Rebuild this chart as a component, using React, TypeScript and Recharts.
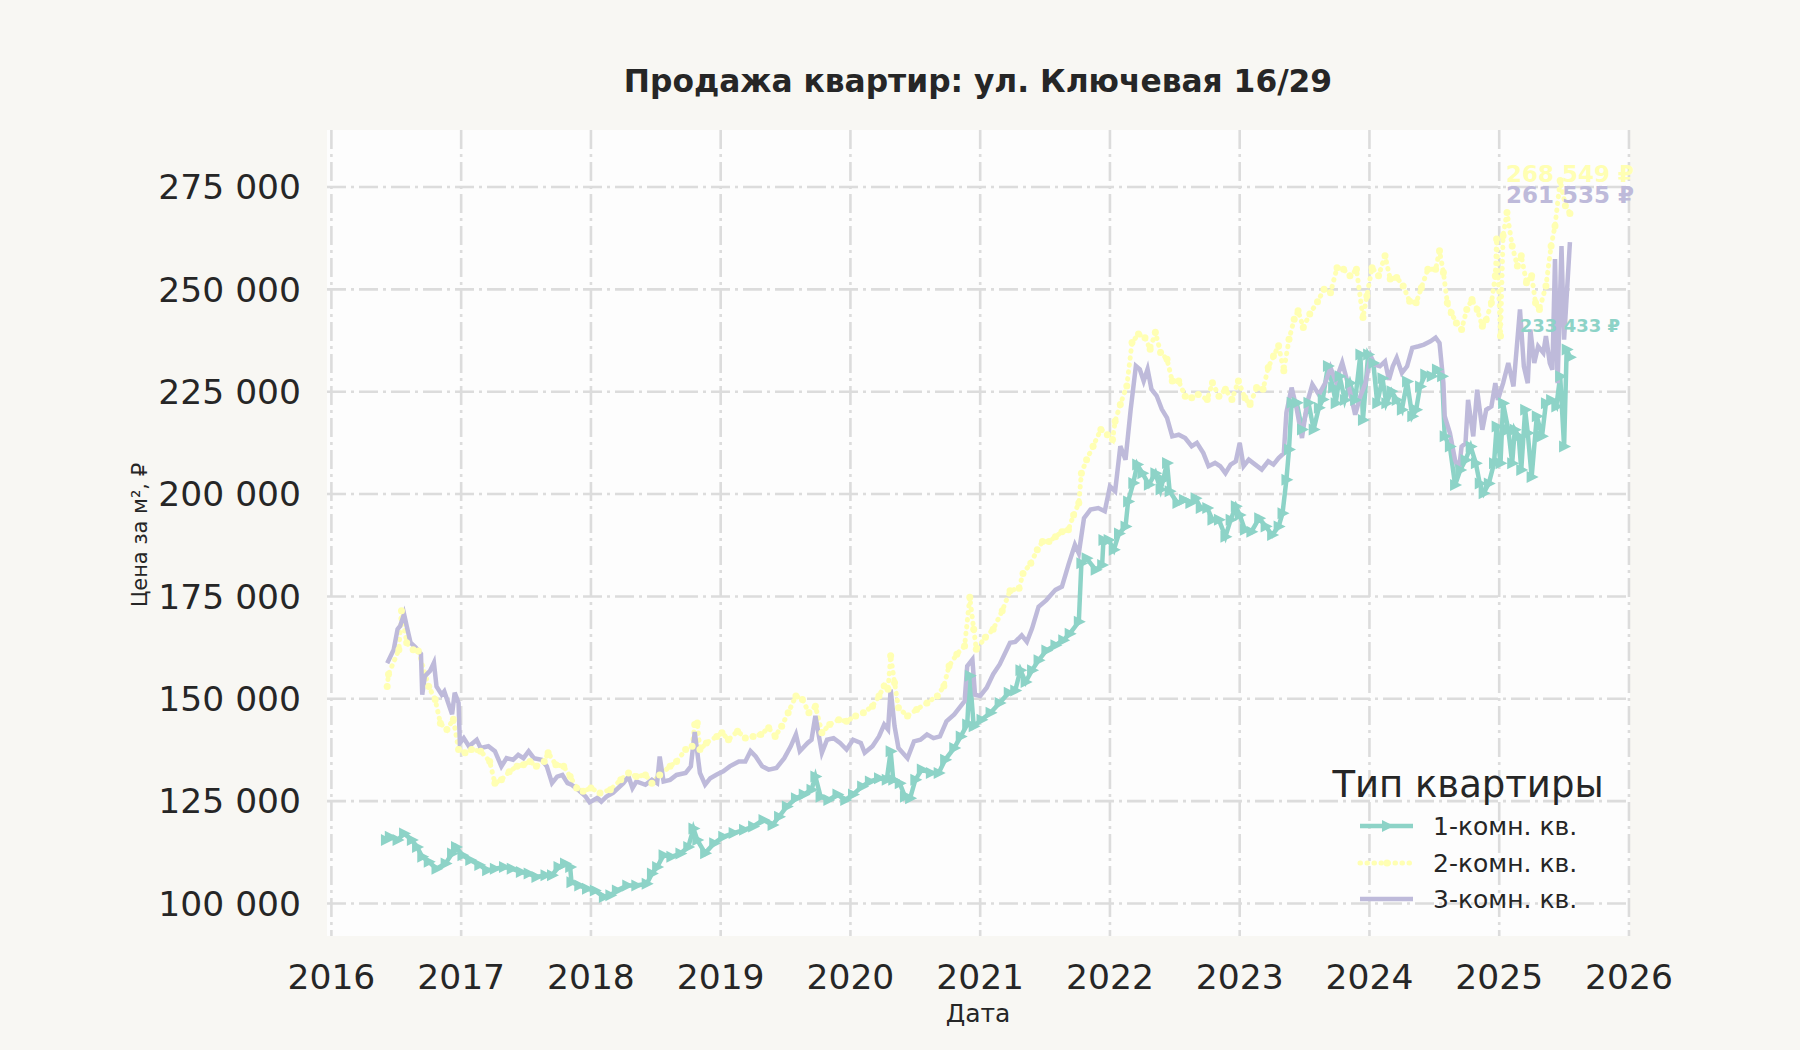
import { LineChart, Line, XAxis, YAxis, CartesianGrid, ReferenceDot } from 'recharts';

const C = {
  teal: '#8dd3c7',
  yellow: '#ffffb3',
  lavender: '#bebada',
  ink: '#262626',
  grid: '#dcdcdc',
  paper: '#f8f7f3',
  plot: '#fdfdfd',
};

const TITLE = 'Продажа квартир: ул. Ключевая 16/29';
const X_LABEL = 'Дата';
const Y_LABEL = 'Цена за м², ₽';
const LEGEND_TITLE = 'Тип квартиры';
const SERIES_NAMES = ['1-комн. кв.', '2-комн. кв.', '3-комн. кв.'];

const X_TICKS = [2016, 2017, 2018, 2019, 2020, 2021, 2022, 2023, 2024, 2025, 2026];
const Y_TICKS = [100000, 125000, 150000, 175000, 200000, 225000, 250000, 275000];

// [decimal year, price per m²]
const ONE_ROOM: [number, number][] = [
  [2016.42, 115500], [2016.45, 116300], [2016.51, 115500], [2016.56, 117100], [2016.62, 115500],
  [2016.66, 113800], [2016.70, 111400], [2016.75, 110200], [2016.81, 108500], [2016.88, 109800],
  [2016.93, 112200], [2016.96, 113800], [2017.01, 111800], [2017.07, 110600], [2017.14, 109400],
  [2017.20, 108100], [2017.26, 108500], [2017.33, 108900], [2017.39, 108500], [2017.46, 107700],
  [2017.52, 107300], [2017.58, 106500], [2017.65, 106900], [2017.70, 106900], [2017.75, 108900],
  [2017.80, 109800], [2017.84, 108900], [2017.85, 105200], [2017.91, 104400], [2017.97, 103600],
  [2018.03, 103200], [2018.10, 101600], [2018.15, 102000], [2018.20, 103200], [2018.28, 104400],
  [2018.35, 104400], [2018.43, 104800], [2018.47, 107300], [2018.51, 108900], [2018.56, 111800],
  [2018.62, 111400], [2018.69, 112200], [2018.75, 113800], [2018.79, 118300], [2018.82, 115500],
  [2018.88, 112300], [2018.95, 114700], [2019.02, 116300], [2019.10, 117200], [2019.18, 118000],
  [2019.25, 118800], [2019.33, 120400], [2019.40, 119200], [2019.45, 121200], [2019.51, 123700],
  [2019.58, 125700], [2019.64, 126600], [2019.70, 127800], [2019.73, 131000], [2019.77, 126100],
  [2019.83, 125300], [2019.90, 126600], [2019.96, 125300], [2020.02, 126600], [2020.09, 128600],
  [2020.15, 129800], [2020.22, 130600], [2020.28, 130200], [2020.31, 137200], [2020.33, 130200],
  [2020.38, 129400], [2020.42, 126100], [2020.46, 125700], [2020.50, 130200], [2020.55, 132700],
  [2020.62, 131900], [2020.68, 131900], [2020.73, 135100], [2020.80, 138000], [2020.85, 140800],
  [2020.90, 143700], [2020.92, 155600], [2020.95, 143300], [2021.01, 144900], [2021.08, 146600],
  [2021.15, 149000], [2021.22, 151500], [2021.27, 152000], [2021.31, 157000], [2021.35, 154100],
  [2021.40, 157000], [2021.45, 159400], [2021.51, 161800], [2021.58, 163100], [2021.64, 164300],
  [2021.69, 165900], [2021.76, 168800], [2021.78, 183100], [2021.82, 184300], [2021.89, 181500],
  [2021.94, 182700], [2021.95, 188800], [2021.99, 188800], [2022.03, 186400], [2022.07, 190400],
  [2022.12, 192100], [2022.14, 198200], [2022.18, 202700], [2022.21, 207200], [2022.25, 205100],
  [2022.30, 202300], [2022.35, 205100], [2022.39, 201100], [2022.41, 203500], [2022.44, 207600],
  [2022.46, 200700], [2022.52, 197800], [2022.57, 198600], [2022.62, 197800], [2022.66, 199000],
  [2022.70, 196600], [2022.75, 196600], [2022.79, 193700], [2022.84, 193700], [2022.89, 189600],
  [2022.93, 193700], [2022.97, 197000], [2023.00, 194900], [2023.04, 191300], [2023.09, 190800],
  [2023.15, 194100], [2023.20, 192100], [2023.25, 190000], [2023.30, 192100], [2023.33, 195300],
  [2023.36, 203500], [2023.38, 210900], [2023.40, 222300], [2023.44, 222300], [2023.48, 215800],
  [2023.53, 222300], [2023.57, 215800], [2023.61, 221100], [2023.64, 223100], [2023.68, 231300],
  [2023.72, 226000], [2023.74, 222200], [2023.77, 228800], [2023.81, 223000], [2023.85, 227100],
  [2023.89, 223000], [2023.93, 234100], [2023.95, 218100], [2023.99, 234100], [2024.03, 232000],
  [2024.06, 222200], [2024.10, 228300], [2024.13, 222200], [2024.17, 225100], [2024.21, 223000],
  [2024.25, 220600], [2024.29, 227500], [2024.33, 219000], [2024.36, 220600], [2024.39, 226300],
  [2024.43, 229200], [2024.48, 228800], [2024.52, 230400], [2024.56, 228800], [2024.58, 214100],
  [2024.62, 211600], [2024.66, 202200], [2024.70, 205900], [2024.74, 208300], [2024.78, 211600],
  [2024.82, 207500], [2024.85, 202600], [2024.88, 200200], [2024.92, 202600], [2024.96, 207500],
  [2024.98, 216500], [2025.01, 207500], [2025.03, 222200], [2025.07, 215700], [2025.10, 207500],
  [2025.12, 215700], [2025.15, 214100], [2025.17, 205900], [2025.20, 220600], [2025.22, 214900],
  [2025.25, 204200], [2025.29, 219000], [2025.33, 214100], [2025.36, 222200], [2025.40, 223000],
  [2025.44, 221400], [2025.47, 228800], [2025.50, 211600], [2025.52, 235300], [2025.545, 233433],
];

const TWO_ROOM: [number, number][] = [
  [2016.43, 153000], [2016.44, 156000], [2016.52, 162000], [2016.54, 171500], [2016.58, 163700],
  [2016.63, 162000], [2016.67, 161700], [2016.75, 153000], [2016.80, 149800], [2016.84, 144000],
  [2016.89, 142500], [2016.94, 145000], [2016.98, 137600], [2017.03, 136800], [2017.08, 137600],
  [2017.15, 137200], [2017.22, 134700], [2017.26, 129400], [2017.31, 130200], [2017.37, 132200],
  [2017.43, 133500], [2017.48, 133900], [2017.53, 134700], [2017.58, 133500], [2017.64, 134700],
  [2017.67, 136800], [2017.73, 133900], [2017.79, 133500], [2017.84, 131000], [2017.89, 128200],
  [2017.94, 127400], [2018.00, 128200], [2018.07, 127000], [2018.15, 127800], [2018.23, 130200],
  [2018.29, 131900], [2018.35, 131000], [2018.42, 131400], [2018.47, 129400], [2018.53, 131400],
  [2018.61, 133500], [2018.66, 134700], [2018.73, 137600], [2018.78, 138400], [2018.80, 143700],
  [2018.82, 144100], [2018.84, 137600], [2018.89, 139200], [2018.97, 140800], [2019.01, 141700],
  [2019.06, 140000], [2019.13, 142100], [2019.19, 140400], [2019.25, 140800], [2019.31, 141300],
  [2019.37, 142900], [2019.42, 140800], [2019.47, 143300], [2019.52, 146600], [2019.58, 150700],
  [2019.63, 149800], [2019.68, 146600], [2019.73, 148200], [2019.78, 141700], [2019.84, 143700],
  [2019.91, 144900], [2019.97, 144500], [2020.04, 145800], [2020.10, 146600], [2020.17, 148200],
  [2020.22, 150700], [2020.26, 153100], [2020.29, 152300], [2020.31, 160500], [2020.34, 153900],
  [2020.37, 147800], [2020.44, 145800], [2020.51, 147400], [2020.59, 149000], [2020.67, 150700],
  [2020.72, 153100], [2020.76, 158000], [2020.82, 160900], [2020.88, 162900], [2020.92, 174800],
  [2020.95, 167000], [2020.97, 162100], [2021.04, 165000], [2021.10, 167000], [2021.17, 171500],
  [2021.23, 176400], [2021.30, 177000], [2021.33, 180600], [2021.39, 183100], [2021.44, 186400],
  [2021.48, 188400], [2021.53, 188400], [2021.58, 189600], [2021.63, 190800], [2021.68, 191300],
  [2021.72, 194900], [2021.76, 197800], [2021.78, 205100], [2021.82, 208400], [2021.87, 211700],
  [2021.93, 215800], [2021.98, 214500], [2022.02, 213300], [2022.04, 217800], [2022.08, 221900],
  [2022.13, 226400], [2022.17, 237000], [2022.22, 239100], [2022.27, 238200], [2022.31, 235400],
  [2022.35, 239500], [2022.39, 234600], [2022.44, 232900], [2022.48, 227600], [2022.53, 227600],
  [2022.58, 223900], [2022.63, 223500], [2022.68, 224300], [2022.75, 223100], [2022.79, 227200],
  [2022.84, 223900], [2022.89, 225600], [2022.94, 223100], [2022.99, 227600], [2023.04, 223500],
  [2023.08, 221900], [2023.13, 226000], [2023.18, 225600], [2023.22, 230900], [2023.26, 233700],
  [2023.30, 236200], [2023.34, 230100], [2023.38, 237800], [2023.42, 242700], [2023.45, 244800],
  [2023.49, 240700], [2023.54, 244000], [2023.60, 247000], [2023.65, 250000], [2023.70, 249200],
  [2023.75, 255300], [2023.80, 254900], [2023.85, 253300], [2023.90, 254900], [2023.95, 243100],
  [2023.98, 248400], [2024.02, 255300], [2024.07, 253300], [2024.12, 258200], [2024.16, 252500],
  [2024.21, 252900], [2024.26, 250800], [2024.31, 247100], [2024.36, 246700], [2024.40, 250400],
  [2024.45, 254900], [2024.51, 254900], [2024.54, 259400], [2024.57, 254100], [2024.60, 246700],
  [2024.63, 244300], [2024.67, 241800], [2024.71, 240200], [2024.75, 245100], [2024.79, 247500],
  [2024.83, 245100], [2024.87, 241000], [2024.90, 242600], [2024.94, 246700], [2024.97, 253300],
  [2024.98, 262300], [2025.01, 238600], [2025.03, 263100], [2025.06, 268800], [2025.10, 260600],
  [2025.14, 255700], [2025.17, 258200], [2025.21, 251600], [2025.25, 253300], [2025.28, 246700],
  [2025.31, 245100], [2025.36, 250800], [2025.40, 260600], [2025.43, 265500], [2025.47, 276600],
  [2025.51, 270400], [2025.545, 268549],
];

const THREE_ROOM: [number, number][] = [
  [2016.43, 158700], [2016.48, 162000], [2016.51, 167000], [2016.53, 167800], [2016.56, 170700],
  [2016.58, 167800], [2016.61, 163700], [2016.65, 162500], [2016.69, 161000], [2016.70, 151000],
  [2016.72, 155500], [2016.76, 156800], [2016.79, 158800], [2016.81, 153000], [2016.85, 151000],
  [2016.87, 151800], [2016.93, 146200], [2016.95, 151500], [2016.98, 149000], [2016.99, 139200],
  [2017.02, 140400], [2017.06, 138400], [2017.12, 140000], [2017.15, 138000], [2017.21, 138400],
  [2017.26, 137200], [2017.31, 133500], [2017.35, 135500], [2017.40, 135100], [2017.44, 136300],
  [2017.48, 135500], [2017.52, 137200], [2017.56, 135500], [2017.62, 135100], [2017.66, 133500],
  [2017.70, 129400], [2017.74, 131000], [2017.78, 131400], [2017.82, 129400], [2017.85, 129000],
  [2017.90, 127800], [2017.96, 126100], [2017.99, 124700], [2018.05, 125800], [2018.08, 124900],
  [2018.12, 126100], [2018.17, 127000], [2018.25, 129400], [2018.29, 131000], [2018.32, 128200],
  [2018.35, 129800], [2018.42, 129000], [2018.47, 130200], [2018.51, 129400], [2018.53, 135900],
  [2018.56, 129800], [2018.61, 130200], [2018.66, 131400], [2018.73, 131900], [2018.77, 133500],
  [2018.80, 141900], [2018.84, 131900], [2018.88, 129000], [2018.92, 130600], [2018.97, 131500],
  [2019.02, 132300], [2019.07, 133500], [2019.14, 134700], [2019.19, 134700], [2019.23, 137200],
  [2019.27, 135900], [2019.32, 133500], [2019.37, 132700], [2019.43, 133100], [2019.49, 135500],
  [2019.54, 138400], [2019.58, 141300], [2019.61, 137200], [2019.67, 139200], [2019.70, 140000],
  [2019.73, 145800], [2019.76, 140400], [2019.78, 136800], [2019.82, 140000], [2019.87, 140400],
  [2019.92, 139200], [2019.97, 137600], [2020.02, 140000], [2020.08, 139200], [2020.11, 136800],
  [2020.17, 138400], [2020.22, 140800], [2020.26, 143700], [2020.29, 142500], [2020.31, 152300],
  [2020.34, 143300], [2020.37, 138000], [2020.44, 135500], [2020.49, 139600], [2020.54, 140000],
  [2020.59, 141300], [2020.64, 140400], [2020.69, 140800], [2020.74, 144500], [2020.80, 146200],
  [2020.85, 148200], [2020.88, 149400], [2020.90, 158000], [2020.94, 159600], [2020.96, 151000],
  [2021.00, 150700], [2021.05, 152700], [2021.10, 156000], [2021.15, 158400], [2021.23, 163700],
  [2021.27, 163900], [2021.32, 165500], [2021.36, 163900], [2021.40, 167200], [2021.45, 172500],
  [2021.51, 174100], [2021.58, 176600], [2021.63, 177400], [2021.68, 182700], [2021.73, 187600],
  [2021.76, 185500], [2021.80, 194100], [2021.85, 196200], [2021.91, 196600], [2021.96, 195800],
  [2022.00, 201900], [2022.04, 200700], [2022.08, 211700], [2022.12, 208400], [2022.16, 220700],
  [2022.20, 231300], [2022.23, 230500], [2022.26, 227600], [2022.29, 230500], [2022.32, 225600],
  [2022.36, 224000], [2022.40, 220700], [2022.44, 218600], [2022.48, 214100], [2022.53, 214500],
  [2022.58, 213700], [2022.63, 211700], [2022.67, 212500], [2022.72, 210000], [2022.76, 206800],
  [2022.81, 207600], [2022.85, 206800], [2022.89, 205100], [2022.93, 207200], [2022.97, 208000],
  [2023.00, 212500], [2023.03, 206800], [2023.07, 208400], [2023.12, 207200], [2023.17, 206000],
  [2023.22, 208000], [2023.26, 207200], [2023.30, 208800], [2023.34, 210000], [2023.36, 219900],
  [2023.40, 226000], [2023.44, 220700], [2023.48, 213700], [2023.52, 222300], [2023.56, 226800],
  [2023.61, 224300], [2023.66, 227200], [2023.70, 230900], [2023.74, 227600], [2023.79, 232100],
  [2023.84, 226300], [2023.89, 219400], [2023.93, 223900], [2023.97, 227100], [2024.01, 233700],
  [2024.04, 231600], [2024.08, 231200], [2024.12, 232400], [2024.15, 227900], [2024.18, 231200],
  [2024.21, 233300], [2024.25, 229600], [2024.29, 231200], [2024.33, 235700], [2024.38, 236100],
  [2024.42, 236500], [2024.47, 237300], [2024.51, 238200], [2024.54, 236900], [2024.57, 227100],
  [2024.58, 219000], [2024.62, 214900], [2024.66, 208300], [2024.69, 205900], [2024.71, 211600],
  [2024.74, 212400], [2024.76, 223000], [2024.80, 214100], [2024.83, 225500], [2024.87, 215700],
  [2024.90, 220600], [2024.94, 221400], [2024.97, 227100], [2024.99, 223000], [2025.03, 227100],
  [2025.07, 232000], [2025.11, 226300], [2025.16, 245100], [2025.19, 231200], [2025.22, 227100],
  [2025.24, 240200], [2025.27, 232000], [2025.30, 236100], [2025.34, 234500], [2025.36, 238600],
  [2025.39, 232000], [2025.41, 230400], [2025.43, 257400], [2025.45, 227100], [2025.48, 260600],
  [2025.50, 237700], [2025.545, 261535],
];

const toRows = (pts: [number, number][]) => pts.map(([x, y]) => ({ x, y }));
const fmt = (v: number) => String(Math.round(v)).replace(/\B(?=(\d{3})+(?!\d))/g, ' ');

const FONT = '"DejaVu Sans", Verdana, sans-serif';

const Triangle = (p: any) => {
  const { cx, cy, index } = p;
  if (cx == null || cy == null) return <g key={index} />;
  return <path key={index} d={`M${cx - 5},${cy - 6}L${cx + 7},${cy}L${cx - 5},${cy + 6}Z`} fill={C.teal} />;
};

const endLabel = (text: string, color: string, size: number, offset: number) => ({
  value: text,
  position: 'top' as const,
  offset,
  fill: color,
  fontSize: size,
  fontWeight: 700,
  fontFamily: FONT,
});

export default function App() {
  const one = toRows(ONE_ROOM);
  const two = toRows(TWO_ROOM);
  const three = toRows(THREE_ROOM);
  const last1 = ONE_ROOM[ONE_ROOM.length - 1];
  const last2 = TWO_ROOM[TWO_ROOM.length - 1];
  const last3 = THREE_ROOM[THREE_ROOM.length - 1];

  return (
    <div style={{ position: 'relative', width: 1800, height: 1050, background: C.paper, fontFamily: FONT, overflow: 'hidden' }}>
      <style>{'body{margin:0}'}</style>
      <LineChart width={1800} height={1050} margin={{ top: 130, right: 170, bottom: 54, left: 227 }}>
        <CartesianGrid
          fill={C.plot}
          fillOpacity={1}
          stroke={C.grid}
          strokeWidth={2.6}
          strokeDasharray="19 5 3 5"
          horizontalValues={Y_TICKS}
          verticalValues={X_TICKS}
        />
        <XAxis
          type="number"
          dataKey="x"
          domain={[2015.966, 2026.008]}
          ticks={X_TICKS}
          allowDataOverflow
          axisLine={false}
          tickLine={false}
          tickSize={0}
          tickMargin={29}
          height={60}
          tick={{ fontSize: 34.5, fill: C.ink, fontFamily: FONT }}
        />
        <YAxis
          type="number"
          domain={[92062, 288922]}
          ticks={Y_TICKS}
          allowDataOverflow
          axisLine={false}
          tickLine={false}
          tickSize={0}
          tickMargin={26}
          width={100}
          tickFormatter={fmt}
          tick={{ fontSize: 34.5, fill: C.ink, fontFamily: FONT }}
        />
        <Line
          data={one}
          dataKey="y"
          name={SERIES_NAMES[0]}
          stroke={C.teal}
          strokeWidth={4.5}
          dot={Triangle}
          activeDot={false}
          isAnimationActive={false}
        />
        <Line
          data={two}
          dataKey="y"
          name={SERIES_NAMES[1]}
          stroke={C.yellow}
          strokeWidth={5}
          strokeDasharray="0.5 6.5"
          strokeLinecap="round"
          dot={{ r: 3.5, fill: C.yellow, stroke: 'none' }}
          activeDot={false}
          isAnimationActive={false}
        />
        <Line
          data={three}
          dataKey="y"
          name={SERIES_NAMES[2]}
          stroke={C.lavender}
          strokeWidth={4.5}
          dot={false}
          activeDot={false}
          isAnimationActive={false}
        />
        <ReferenceDot x={last2[0]} y={last2[1]} r={0} fill="none" stroke="none" label={endLabel(`${fmt(last2[1])} ₽`, C.yellow, 23, 31)} />
        <ReferenceDot x={last3[0]} y={last3[1]} r={0} fill="none" stroke="none" label={endLabel(`${fmt(last3[1])} ₽`, C.lavender, 23, 39)} />
        <ReferenceDot x={last1[0]} y={last1[1]} r={0} fill="none" stroke="none" label={endLabel(`${fmt(last1[1])} ₽`, C.teal, 18, 25)} />
      </LineChart>

      <svg width={1800} height={1050} style={{ position: 'absolute', left: 0, top: 0, pointerEvents: 'none' }}>
        <text x={978} y={92} textAnchor="middle" fontSize={31.3} fontWeight={700} fill={C.ink} fontFamily={FONT}>{TITLE}</text>
        <text x={978} y={1022} textAnchor="middle" fontSize={25} fill={C.ink} fontFamily={FONT}>{X_LABEL}</text>
        <text x={147} y={535} textAnchor="middle" fontSize={21} fill={C.ink} fontFamily={FONT} transform="rotate(-90 147 535)">{Y_LABEL}</text>

        {/* legend */}
        <text x={1468} y={797} textAnchor="middle" fontSize={37} fill={C.ink} fontFamily={FONT}>{LEGEND_TITLE}</text>
        <line x1={1360} y1={826} x2={1413} y2={826} stroke={C.teal} strokeWidth={4.5} />
        <path d="M1382,820L1394,826L1382,832Z" fill={C.teal} />
        <line x1={1360} y1={863} x2={1413} y2={863} stroke={C.yellow} strokeWidth={5} strokeDasharray="0.5 6.5" strokeLinecap="round" />
        <circle cx={1387} cy={863} r={3.5} fill={C.yellow} />
        <line x1={1360} y1={899} x2={1413} y2={899} stroke={C.lavender} strokeWidth={4.5} />
        {SERIES_NAMES.map((n, i) => (
          <text key={n} x={1433} y={835 + i * 36.7} fontSize={25} fill={C.ink} fontFamily={FONT}>{n}</text>
        ))}
      </svg>
    </div>
  );
}
